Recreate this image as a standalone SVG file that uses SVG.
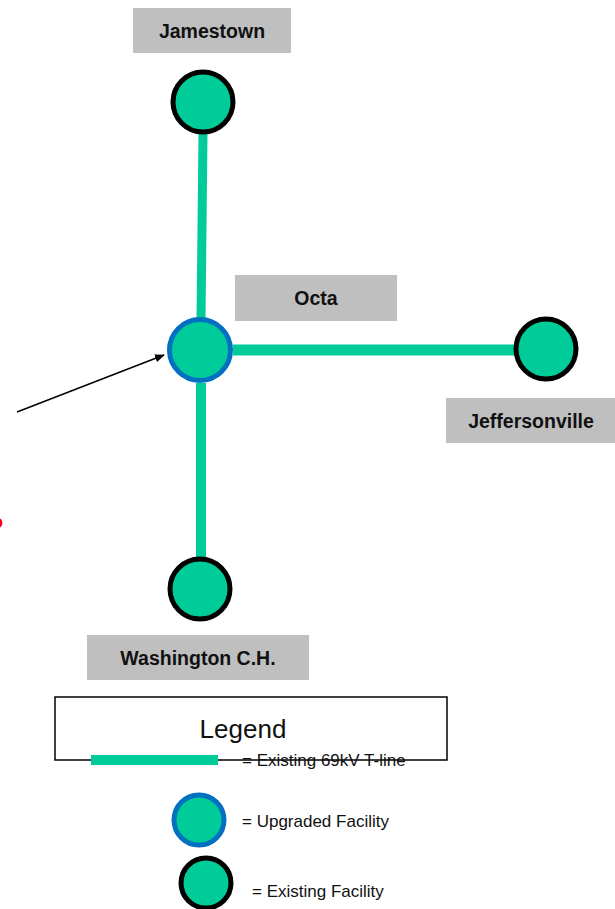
<svg xmlns="http://www.w3.org/2000/svg" width="615" height="909" viewBox="0 0 615 909">
<defs>
<style>
.lbl{fill:#bfbfbf}
.lt{font-family:"Liberation Sans",Arial,sans-serif;font-weight:bold;font-size:19.5px;fill:#111;text-anchor:middle}
.ex{fill:#00cc99;stroke:#000;stroke-width:5}
.up{fill:#00cc99;stroke:#0070c0;stroke-width:5}
.line{stroke:#00cc99;fill:none}
.lg{font-family:"Liberation Sans",Arial,sans-serif;font-size:17px;fill:#111}
</style>
<marker id="ah" markerWidth="10" markerHeight="8" refX="9" refY="4" orient="auto" markerUnits="userSpaceOnUse">
<path d="M0,0 L10,4 L0,8 Z" fill="#000"/>
</marker>
</defs>
<rect width="615" height="909" fill="#fff"/>
<g id="connectors">
<line class="line" x1="203" y1="134" x2="201" y2="320" stroke-width="9"/>
<line class="line" x1="233" y1="350" x2="515" y2="350" stroke-width="11"/>
<line class="line" x1="201" y1="383" x2="201" y2="557" stroke-width="10"/>
<line x1="17" y1="412" x2="164" y2="355" stroke="#000" stroke-width="1.5" marker-end="url(#ah)"/>
</g>
<g id="jamestown">
<rect class="lbl" x="133" y="8" width="158" height="45"/>
<text class="lt" x="212" y="38">Jamestown</text>
<circle class="ex" cx="203" cy="102" r="30"/>
</g>
<g id="octa">
<circle class="up" cx="200" cy="350" r="30.5"/>
<rect class="lbl" x="235" y="275" width="162" height="46"/>
<text class="lt" x="316" y="305">Octa</text>
</g>
<g id="jeffersonville">
<circle class="ex" cx="546" cy="349" r="30"/>
<rect class="lbl" x="446" y="398" width="169" height="45"/>
<text class="lt" x="531" y="428">Jeffersonville</text>
</g>
<g id="washington">
<circle class="ex" cx="200" cy="589" r="30"/>
<rect class="lbl" x="87" y="635" width="222" height="45"/>
<text class="lt" x="198" y="665">Washington C.H.</text>
</g>
<text x="-8" y="528" font-family="Liberation Sans,Arial,sans-serif" font-weight="bold" font-size="18" fill="#ff0000">o</text>
<g id="legend">
<rect x="55" y="697" width="392" height="63" fill="#fff" stroke="#000" stroke-width="1.5"/>
<text x="243" y="738" font-family="Liberation Sans,Arial,sans-serif" font-size="26" fill="#111" text-anchor="middle">Legend</text>
<line class="line" x1="91" y1="760" x2="218" y2="760" stroke-width="10"/>
<text class="lg" x="242" y="766">= Existing 69kV T-line</text>
<circle class="up" cx="199" cy="820" r="25"/>
<text class="lg" x="242" y="827">= Upgraded Facility</text>
<circle class="ex" cx="206" cy="883" r="25"/>
<text class="lg" x="252" y="897">= Existing Facility</text>
</g>
</svg>
